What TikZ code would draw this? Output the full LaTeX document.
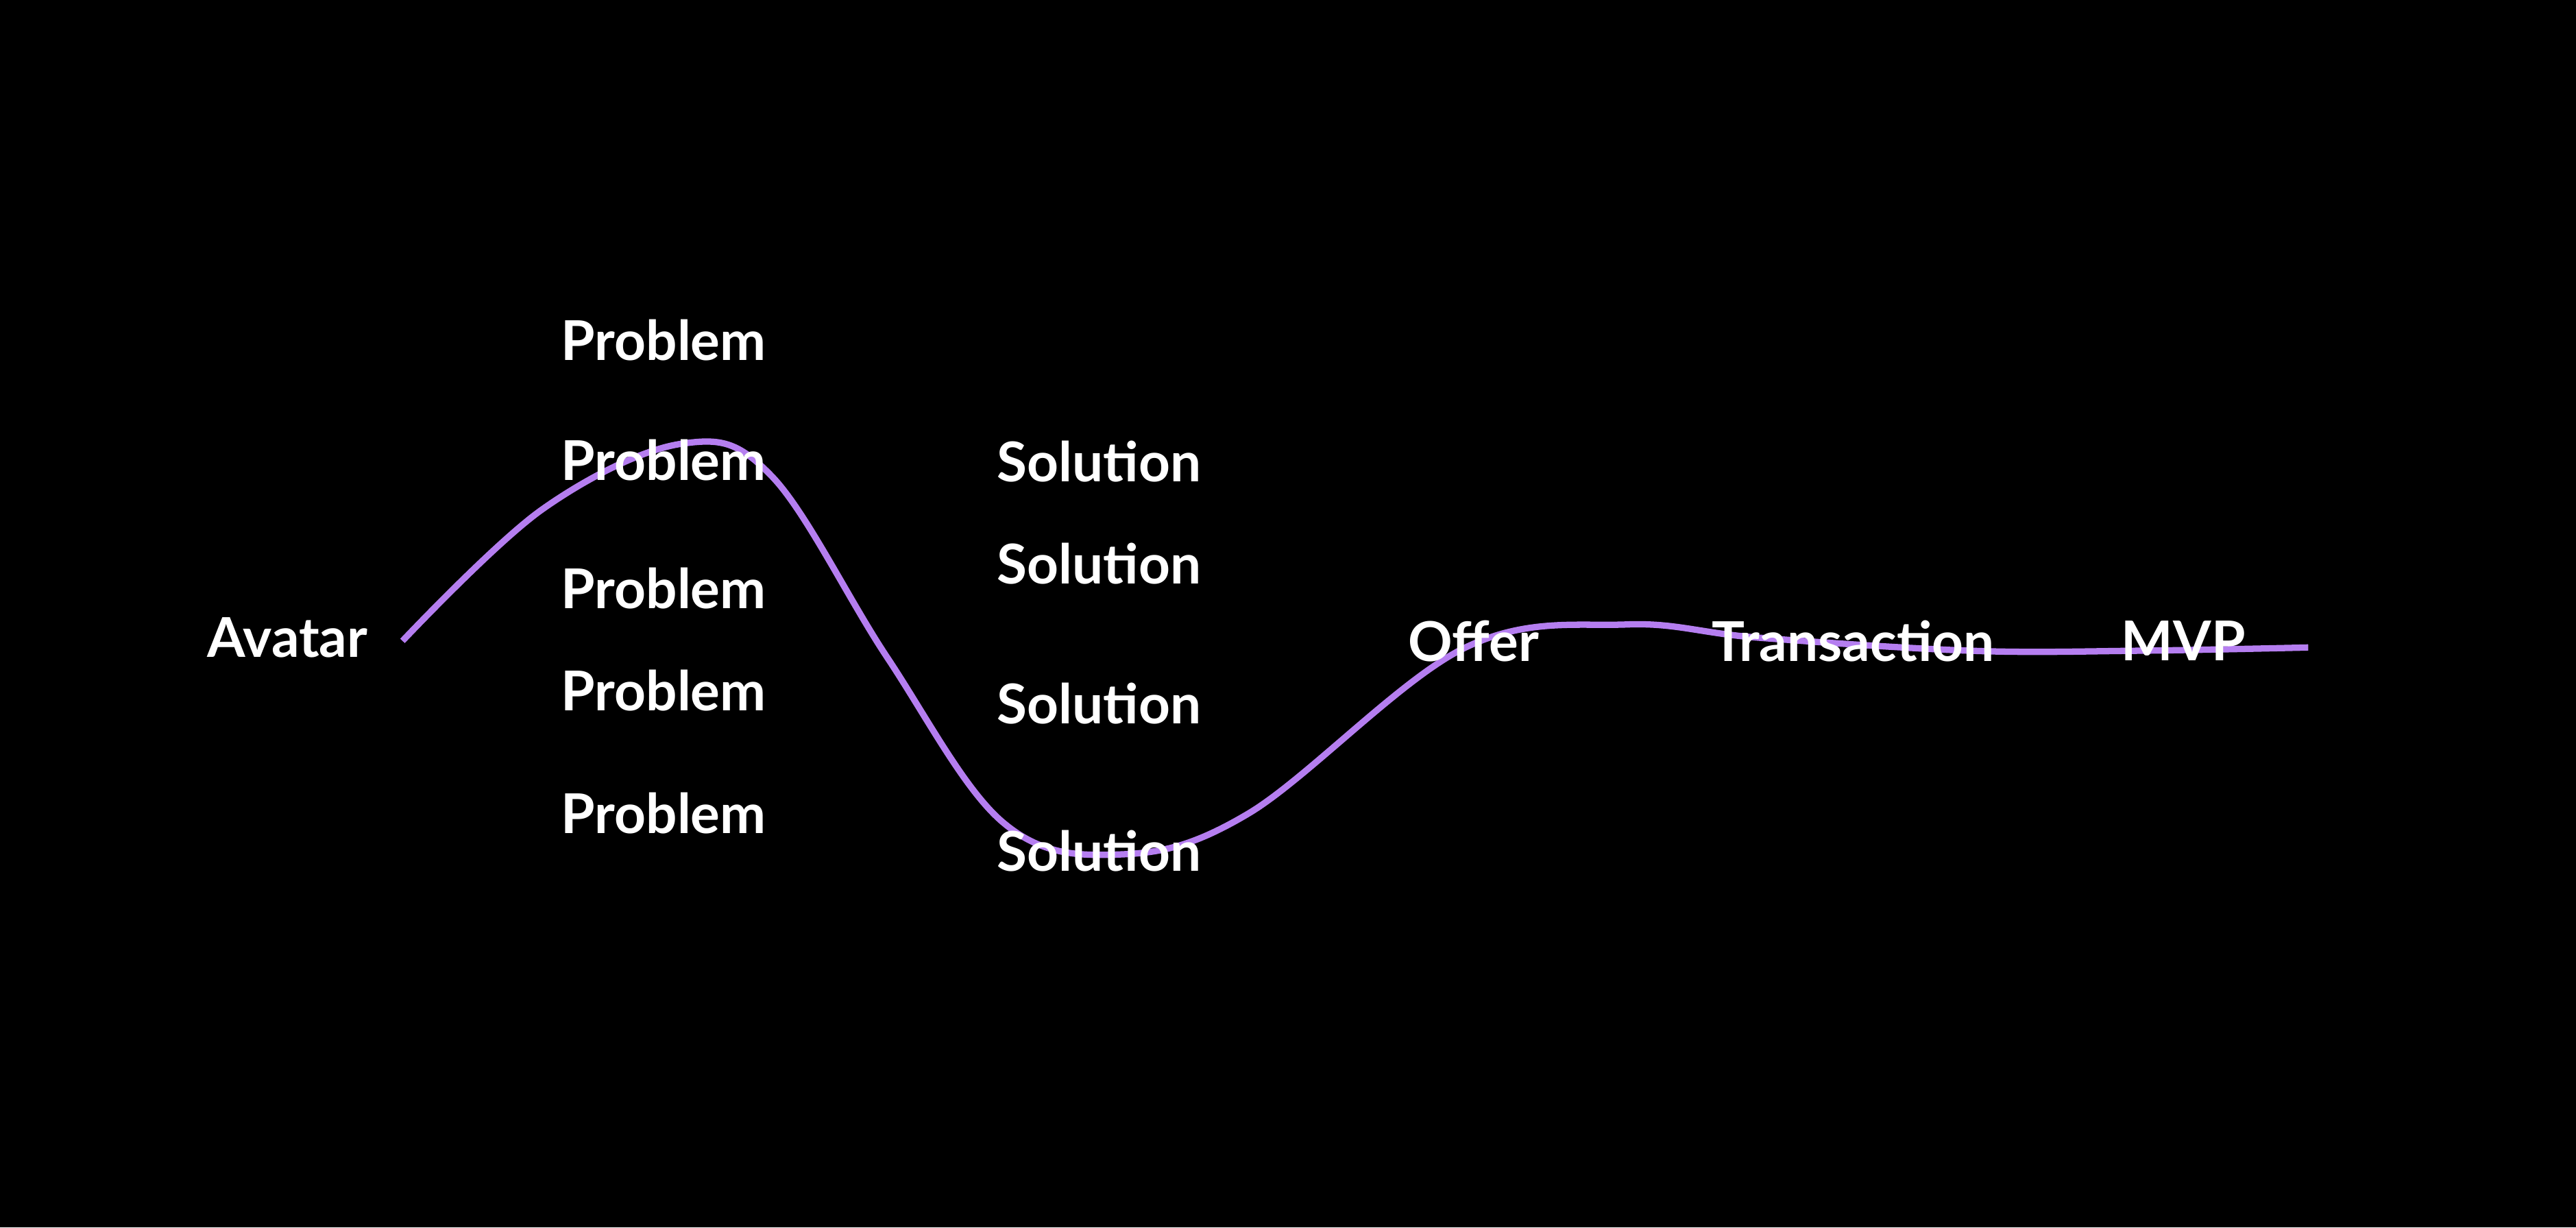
\documentclass[tikz,border=0pt]{standalone}
\usepackage{fontspec}
\setmainfont{Lato}
\usetikzlibrary{positioning}
\definecolor{curvepurple}{HTML}{B57EF0}
\begin{document}
\begin{tikzpicture}[x=0.01cm, y=-0.01cm,
  lbl/.style={text=white, font=\fontsize{9.5}{11}\selectfont\bfseries, inner sep=0pt}]
  \fill[black] (0,0) rectangle (1568,747);
  \useasboundingbox (0,0) rectangle (1568,747);
  % Kurve
  \draw[curvepurple, line width=1.1pt] plot[smooth, tension=0.6] coordinates
    {(245,390) (330,310) (415,270) (470,290) (540,400) (610,500) (680,520)
     (760,495) (890,395) (990,380) (1070,388) (1200,396) (1300,396) (1405,394)};
  % Texte
  \node[lbl] (avatar) at (175,388) {Avatar};
  \foreach \y [count=\i] in {207,280,358,420,495}
    \node[lbl] (problem\i) at (404,\y) {Problem};
  \foreach \y [count=\i] in {281,343,428,518}
    \node[lbl] (solution\i) at (669,\y) {Solution};
  \node[lbl] (offer) at (897,390) {Offer};
  \node[lbl] (transaction) at (1128,390) {Transaction};
  \node[lbl] (mvp) at (1329,390) {MVP};
\end{tikzpicture}
\end{document}
